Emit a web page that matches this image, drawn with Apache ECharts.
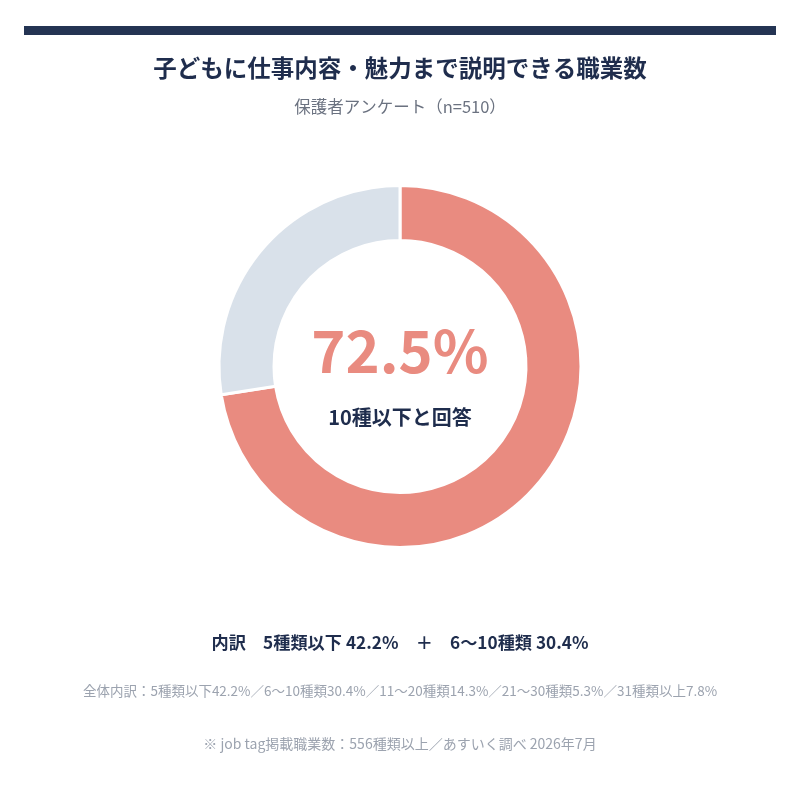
<!DOCTYPE html>
<html><head><meta charset="utf-8">
<script src="https://cdn.jsdelivr.net/npm/echarts@6/dist/echarts.min.js"></script>
<style>html,body{margin:0;padding:0;background:#fff}#c{width:800px;height:788px}</style>
</head><body><div id="c"></div>
<script>
const categories = ['10種以下', '11種以上'];
const values = [72.5, 27.5];
const colors = ['#E98B80', '#D9E1EA'];
const titleText = '子どもに仕事内容・魅力まで説明できる職業数';
const subtitleText = '保護者アンケート（n=510）';
const centerValue = '72.5%';
const centerLabel = '10種以下と回答';
const breakdownText = '内訳　5種類以下 42.2%　＋　6〜10種類 30.4%';
const fullBreakdown = '全体内訳：5種類以下42.2%／6〜10種類30.4%／11〜20種類14.3%／21〜30種類5.3%／31種類以上7.8%';
const footnote = '※ job tag掲載職業数：556種類以上／あすいく調べ 2026年7月';

const FONT = '"Noto Sans CJK JP","Noto Sans",sans-serif';
const chart = echarts.init(document.getElementById('c'));
chart.setOption({
  backgroundColor: '#fff',
  animation: false,
  graphic: [
    {type:'rect', shape:{x:24,y:26,width:752,height:9}, style:{fill:'#243453'}},
    {type:'text', left:'center', top:322, style:{text:centerValue, font:'bold 58px '+FONT, fill:'#E98B80'}},
    {type:'text', left:'center', top:407, style:{text:centerLabel, font:'bold 20px '+FONT, fill:'#1F2D4D'}},
    {type:'text', left:'center', top:634, style:{text:breakdownText, font:'bold 17.2px '+FONT, fill:'#1F2D4D'}},
    {type:'text', left:'center', top:684, style:{text:fullBreakdown, font:'13.5px '+FONT, fill:'#9CA3AF'}},
    {type:'text', left:'center', top:737, style:{text:footnote, font:'14px '+FONT, fill:'#9CA3AF'}}
  ],
  title: [
    {text:titleText, left:'center', top:51, textStyle:{fontFamily:FONT, fontSize:23.5, fontWeight:'bold', color:'#1F2D4D'}},
    {text:subtitleText, left:'center', top:93, textStyle:{fontFamily:FONT, fontSize:16.5, fontWeight:'normal', color:'#6B7280'}}
  ],
  series: [{
    type:'pie',
    center:[400,366.5],
    radius:[126,181],
    startAngle:90,
    clockwise:true,
    silent:true,
    label:{show:false},
    labelLine:{show:false},
    itemStyle:{borderColor:'#fff', borderWidth:3},
    data: categories.map((c,i)=>({name:c, value:values[i], itemStyle:{color:colors[i]}}))
  }]
});
</script></body></html>
